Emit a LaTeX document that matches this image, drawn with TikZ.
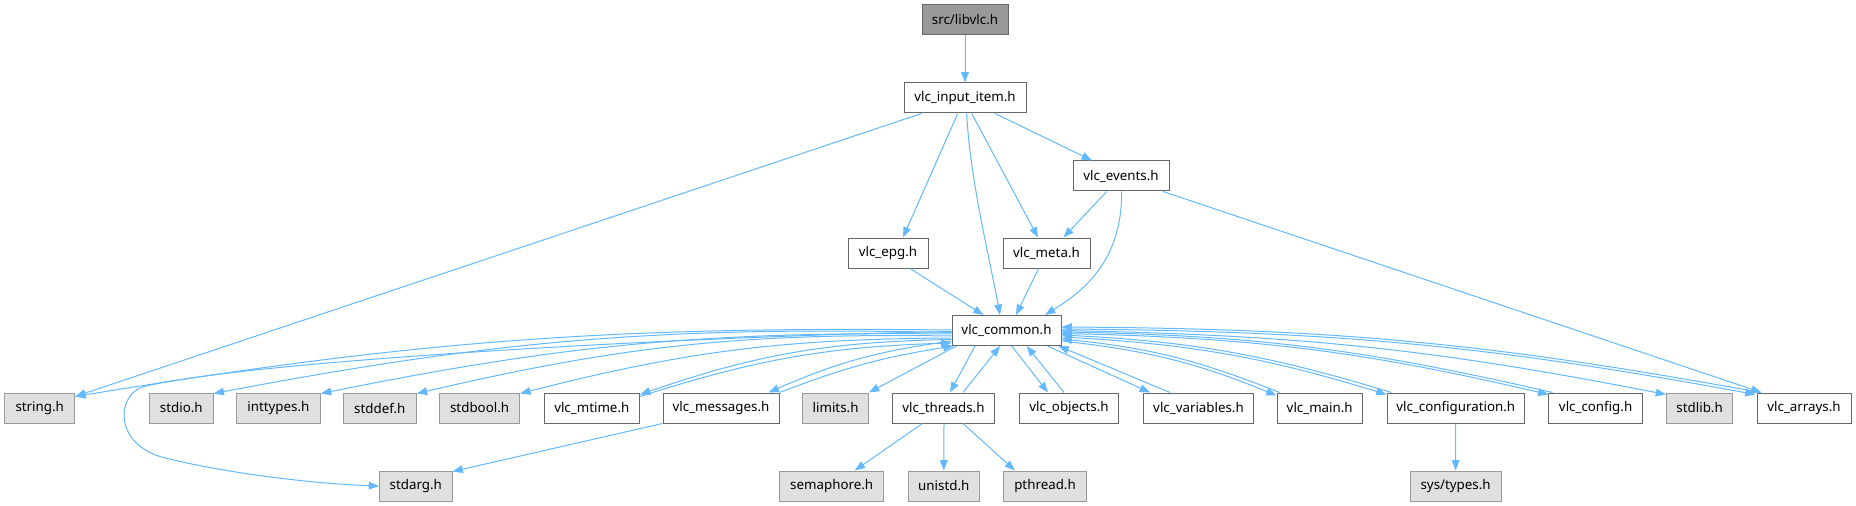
\documentclass[tikz,border=0pt]{standalone}
\usepackage{fontspec}
\setmainfont{Noto Sans}
\usetikzlibrary{arrows.meta,calc}
\definecolor{edgec}{HTML}{63B8FF}
\definecolor{bordc}{HTML}{666666}
\definecolor{extb}{HTML}{999999}
\definecolor{extf}{HTML}{E0E0E0}
\definecolor{rootf}{HTML}{999999}
\begin{document}
\begin{tikzpicture}[x=0.75pt,y=-0.75pt,
  hbox/.style={draw=bordc, line width=0.75pt, fill=white, minimum height=30*0.75pt, inner sep=0pt,
    font=\fontsize{10}{12}\selectfont, text=black},
  ext/.style={hbox, draw=extb, fill=extf},
  rootbox/.style={hbox, draw=bordc, fill=rootf},
  conn/.style={draw=edgec, line width=0.75pt, -{Triangle[length=7.8pt,width=5.8pt]}}]
\useasboundingbox (0,0) rectangle (1856,506);

% nodes
\node[rootbox, minimum width=86*0.75pt] (root) at (965,20) {src/libvlc.h};
\node[hbox, minimum width=122*0.75pt] (input) at (965,98) {vlc\_input\_item.h};
\node[hbox, minimum width=96*0.75pt] (events) at (1121,176) {vlc\_events.h};
\node[hbox, minimum width=80*0.75pt] (epg) at (888,253) {vlc\_epg.h};
\node[hbox, minimum width=87*0.75pt] (meta) at (1046.5,253) {vlc\_meta.h};
\node[hbox, minimum width=109*0.75pt] (common) at (1006.5,330.5) {vlc\_common.h};

\node[ext, minimum width=70*0.75pt] (string) at (39.7,408) {string.h};
\node[ext, minimum width=63.6*0.75pt] (stdio) at (181.3,408) {stdio.h};
\node[ext, minimum width=84*0.75pt] (inttypes) at (278.4,408) {inttypes.h};
\node[ext, minimum width=73*0.75pt] (stddef) at (379.8,408) {stddef.h};
\node[ext, minimum width=80*0.75pt] (stdbool) at (479.6,408) {stdbool.h};
\node[hbox, minimum width=95.4*0.75pt] (mtime) at (591.8,408) {vlc\_mtime.h};
\node[hbox, minimum width=116*0.75pt] (messages) at (721,408) {vlc\_messages.h};
\node[ext, minimum width=65.6*0.75pt] (limits) at (835.6,408) {limits.h};
\node[hbox, minimum width=102.4*0.75pt] (threads) at (943.4,408) {vlc\_threads.h};
\node[hbox, minimum width=99*0.75pt] (objects) at (1069,408) {vlc\_objects.h};
\node[hbox, minimum width=110*0.75pt] (variables) at (1198.5,408) {vlc\_variables.h};
\node[hbox, minimum width=85.3*0.75pt] (main) at (1319.7,408) {vlc\_main.h};
\node[hbox, minimum width=137.3*0.75pt] (configuration) at (1455.7,408) {vlc\_configuration.h};
\node[hbox, minimum width=93.3*0.75pt] (config) at (1595.6,408) {vlc\_config.h};
\node[ext, minimum width=66*0.75pt] (stdlib) at (1699.6,408) {stdlib.h};
\node[hbox, minimum width=94*0.75pt] (arrays) at (1804,408) {vlc\_arrays.h};

\node[ext, minimum width=72.4*0.75pt] (stdarg) at (415.8,486) {stdarg.h};
\node[ext, minimum width=103.6*0.75pt] (semaphore) at (831.7,486) {semaphore.h};
\node[ext, minimum width=71.6*0.75pt] (unistd) at (943.8,486) {unistd.h};
\node[ext, minimum width=82.6*0.75pt] (pthread) at (1045,486) {pthread.h};
\node[ext, minimum width=91.2*0.75pt] (systypes) at (1455.6,486) {sys/types.h};

% upper edges
\draw[conn] (root) -- (input);
\draw[conn] ($(input.south west)+(18,0)$) -- ($(string.north east)+(0,4)$);
\draw[conn] ($(input.south)+(-7.3,0)$) -- ($(epg.north)+(15,0)$);
\draw[conn] ($(input.south)+(1.7,0)$) .. controls (970,180) and (990,260) .. ($(common.north)+(-6.5,0)$);
\draw[conn] ($(input.south)+(6.7,0)$) -- ($(meta.north)+(-8.5,0)$);
\draw[conn] ($(input.south)+(30,0)$) -- ($(events.north)+(-29,0)$);
\draw[conn] ($(events.south)+(-14.3,0)$) -- ($(meta.north)+(17,0)$);
\draw[conn] ($(events.south)+(0.7,0)$) .. controls (1122,260) and (1085,290) .. ($(common.north)+(38.5,0)$);
\draw[conn] ($(events.south)+(42,0)$) -- ($(arrays.north west)+(5,0)$);
\draw[conn] ($(epg.south)+(22,0)$) -- ($(common.north)+(-23,0)$);
\draw[conn] ($(meta.south)+(-8,0)$) -- ($(common.north)+(9.5,0)$);

% common -> left side
\draw[conn] ($(common.north west)+(0,15)$) to[bend right=5] ($(string.north east)+(0,4)$);
\draw[conn] ($(common.north west)+(0,16.5)$) .. controls (700,336) and (250,360) .. (142,387)
   .. controls (116,397) and (114,445) .. (165,458)
   .. controls (235,475) and (320,484) .. (stdarg.west);
\draw[conn] ($(common.north west)+(0,17.5)$) to[bend right=6] ($(stdio.north east)+(0,1)$);
\draw[conn] ($(common.north west)+(0,19)$) to[bend right=6] ($(inttypes.north east)+(0,1)$);
\draw[conn] ($(common.north west)+(0,21)$) to[bend right=7] ($(stddef.north east)+(0,1)$);
\draw[conn] ($(common.north west)+(0,23)$) to[bend right=7] ($(stdbool.north east)+(0,1)$);
\draw[conn] ($(common.north west)+(0,24.5)$) to[bend right=9] ($(mtime.north east)+(0,2)$);
\draw[conn] ($(mtime.north east)+(0,4)$) to[bend left=8] ($(common.north west)+(0,28)$);
\draw[conn] ($(common.north west)+(0,26)$) to[bend right=8] ($(messages.north east)+(-11,0)$);
\draw[conn] (messages.north east) to[bend left=6] ($(common.south west)+(2,0)$);
\draw[conn] ($(common.south west)+(5,0)$) -- (limits.north east);

% common -> below
\draw[conn] ($(common.south)+(-31.5,0)$) -- ($(threads.north)+(6.6,0)$);
\draw[conn] ($(threads.north)+(19.6,0)$) -- ($(common.south)+(-6.5,0)$);
\draw[conn] ($(common.south)+(5.2,0)$) -- ($(objects.north)+(-21,0)$);
\draw[conn] ($(objects.north)+(-5,0)$) -- ($(common.south)+(20.2,0)$);
\draw[conn] ($(common.south east)+(-14,0)$) -- ($(variables.north)+(-48.5,0)$);
\draw[conn] ($(variables.north)+(-28.5,0)$) -- ($(common.south east)+(-3,0)$);

% common -> right side
\draw[conn] ($(common.north east)+(0,26)$) to[bend left=8] ($(main.north west)+(0,3)$);
\draw[conn] ($(main.north west)+(3,0)$) to[bend right=8] ($(common.north east)+(0,24)$);
\draw[conn] ($(common.north east)+(0,22)$) to[bend left=7] ($(configuration.north west)+(0,2)$);
\draw[conn] ($(configuration.north west)+(5,0)$) to[bend right=7] ($(common.north east)+(0,20)$);
\draw[conn] ($(common.north east)+(0,18.5)$) to[bend left=6] ($(config.north west)+(0,2)$);
\draw[conn] ($(config.north west)+(4,0)$) to[bend right=6] ($(common.north east)+(0,17)$);
\draw[conn] ($(common.north east)+(0,15.5)$) to[bend left=5] ($(stdlib.north west)+(0,2)$);
\draw[conn] ($(common.north east)+(0,14)$) to[bend left=5] ($(arrays.north west)+(-1,2)$);
\draw[conn] ($(arrays.north west)+(4,0)$) to[bend right=5] ($(common.north east)+(0,12)$);

% lower edges
\draw[conn] (messages.south west) -- ($(stdarg.north east)+(0,1)$);
\draw[conn] ($(threads.south)+(-21,0)$) -- ($(semaphore.north)+(23,0)$);
\draw[conn] ($(threads.south)+(0.6,0)$) -- (unistd.north);
\draw[conn] ($(threads.south)+(19.6,0)$) -- ($(pthread.north)+(-30,0)$);
\draw[conn] (configuration.south) -- (systypes.north);
\end{tikzpicture}
\end{document}
